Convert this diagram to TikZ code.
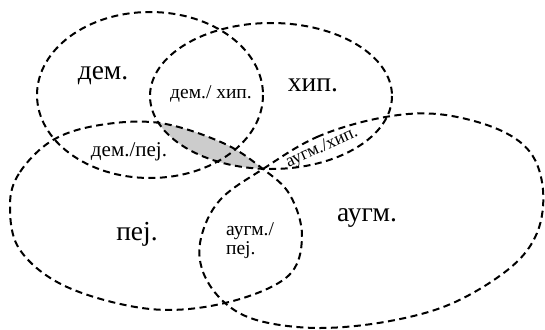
\documentclass[tikz,border=0pt]{standalone}
\usepackage{fontspec}
\setmainfont{Liberation Serif}
\begin{document}
\begin{tikzpicture}[x=1pt,y=-1pt,
  setline/.style={line width=2pt,dash pattern=on 7pt off 4.5pt},
  biglbl/.style={font=\fontsize{27.5}{29}\selectfont,inner sep=0pt},
  smalllbl/.style={font=\fontsize{19.5}{19}\selectfont,inner sep=0pt}]
\useasboundingbox (0,0) rectangle (545,329);
\def\PejPath{plot[smooth cycle,tension=0.6] coordinates {(10,205) (20,172) (53,140) (100,125) (160,123) (223,143) (263,169) (290,195) (302,237) (287,277) (225,303) (150,309) (67,287) (20,250)}}
\def\AugPath{plot[smooth cycle,tension=0.6] coordinates {(263,169) (317,137) (380,118) (437,114) (495,128) (530,152) (543,190) (537,233) (510,268) (453,303) (390,321) (320,328) (260,321) (225,303) (203,272) (201,238) (220,200)}}
% shaded intersection of hip. and pej.
\begin{scope}
  \clip (271,96) ellipse [x radius=121, y radius=73];
  \fill[black!20] \PejPath;
\end{scope}
% sets
\draw[setline] (150,95) ellipse [x radius=113, y radius=83];
\draw[setline] (271,96) ellipse [x radius=121, y radius=73];
\draw[setline] \PejPath;
\draw[setline] \AugPath;
% labels
\node[biglbl] (dem) at (103,76) {дем.};
\node[biglbl] (hip) at (313,85) {хип.};
\node[biglbl] (pej) at (137,234) {пеј.};
\node[biglbl] (aug) at (367,218) {аугм.};
\node[smalllbl] (demhip) at (211,94) {дем./ хип.};
\node[smalllbl,font=\fontsize{21}{21}\selectfont] (dempej) at (129,152) {дем./пеј.};
\node[smalllbl,align=left] (augpej) at (250,241) {аугм./\\пеј.};
\node[smalllbl,font=\fontsize{18}{18}\selectfont,rotate=24] (aughip) at (322,148) {аугм./хип.};
\end{tikzpicture}
\end{document}
